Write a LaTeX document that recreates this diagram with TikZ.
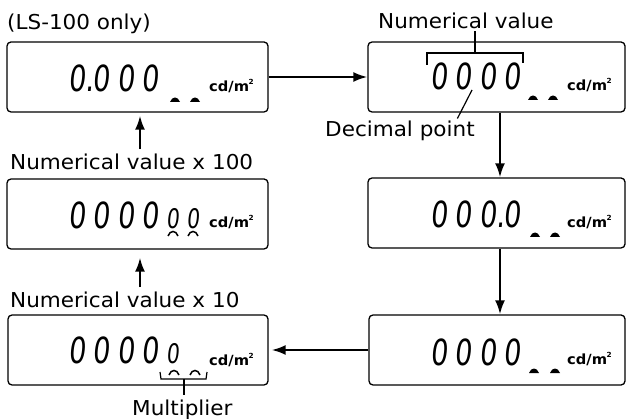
\documentclass[tikz,border=0pt]{standalone}
\usepackage{fontspec}
\setmainfont{DejaVu Sans}[FakeStretch=1.05]
\newfontfamily\lcdfont{DejaVu Sans}[FakeSlant=0.1,FakeStretch=0.75]
\usetikzlibrary{arrows.meta}
\newcommand\lcd{\fontsize{36}{36}\lcdfont}
\newcommand\lcdsmall{\fontsize{27}{27}\lcdfont}
\newcommand\gp{\kern7.3pt}
\newcommand\dotpt{.\kern-1.3pt}
\newcommand\unitcd{\fontsize{14}{14}\selectfont\bfseries cd/m\kern-0.5pt\raisebox{7pt}{\fontsize{7}{7}\selectfont 2}}
\newcommand\mkfill[2]{\fill (#1-5,#2) .. controls (#1-3,#2-6) and (#1+3,#2-6) .. (#1+5,#2) -- cycle;}
\newcommand\mkarc[2]{\draw[line width=1.5pt] (#1-5,#2) .. controls (#1-3,#2-6) and (#1+3,#2-6) .. (#1+5,#2);}
\begin{document}
\begin{tikzpicture}[x=1pt,y=-1pt,
  box/.style={draw, rounded corners=4pt, line width=1.3pt, minimum height=70pt, inner sep=0pt},
  lbl/.style={inner sep=0pt, font=\fontsize{20.5}{20.5}\selectfont},
  txt/.style={inner sep=0pt},
  arr/.style={line width=2.2pt, -{Latex[length=14pt,width=10pt]}},
  thinline/.style={line width=1.2pt}]
\useasboundingbox (0,0) rectangle (626,419);

% boxes
\node[box, minimum width=261pt] (b1) at (137.5,77) {};
\node[box, minimum width=257pt] (b2) at (496.5,77) {};
\node[box, minimum width=257pt] (b3) at (496.5,213) {};
\node[box, minimum width=256pt] (b4) at (497,350) {};
\node[box, minimum width=260pt] (b5) at (138,350) {};
\node[box, minimum width=261pt] (b6) at (137.5,214) {};

% digits
\node[txt, anchor=base west] (d1) at (68,92) {\lcd 0\dotpt 0\gp 0\gp 0};
\node[txt, anchor=base west] (d2) at (430,90) {\lcd 0\gp 0\gp 0\gp 0};
\node[txt, anchor=base west] (d3) at (430,228) {\lcd 0\gp 0\gp 0\dotpt 0};
\node[txt, anchor=base west] (d4) at (430,365) {\lcd 0\gp 0\gp 0\gp 0};
\node[txt, anchor=base west] (d5) at (68,363) {\lcd 0\gp 0\gp 0\gp 0\gp{\lcdsmall 0}};
\node[txt, anchor=base west] (d6) at (68,229) {\lcd 0\gp 0\gp 0\gp 0\gp{\lcdsmall 0\kern7.5pt 0}};

% units
\node[txt, anchor=base west] (u1) at (209,92) {\unitcd};
\node[txt, anchor=base west] (u2) at (567,91) {\unitcd};
\node[txt, anchor=base west] (u3) at (567,228) {\unitcd};
\node[txt, anchor=base west] (u4) at (567,364) {\unitcd};
\node[txt, anchor=base west] (u5) at (209,365) {\unitcd};
\node[txt, anchor=base west] (u6) at (209,228) {\unitcd};

% markers
\mkfill{175}{102}\mkfill{195}{102}
\mkfill{533}{100}\mkfill{553}{100}
\mkfill{535}{237}\mkfill{555}{237}
\mkfill{534}{373}\mkfill{555}{373}
\mkarc{174}{375}\mkarc{195}{375}
\mkarc{173}{236}\mkarc{193}{236}

% labels
\node[lbl, anchor=base west] (ls) at (7,30) {(LS-100 only)};
\node[lbl, anchor=base west] (nv) at (378,29) {Numerical value};
\node[lbl, anchor=base west] (dp) at (325,137) {Decimal point};
\node[lbl, anchor=base west] (n100) at (10,170) {Numerical value x 100};
\node[lbl, anchor=base west] (n10) at (10,308) {Numerical value x 10};
\node[lbl, anchor=base west] (mul) at (132,415) {Multiplier};

% brackets and leader lines
\coordinate (nvs) at (475,53);
\draw[thinline] (427,65) -- (427,53) -- (523,53) -- (523,63);
\draw[thinline, shorten >=2pt] (nvs) -- (nv.south -| nvs);
\coordinate (dpt) at (472,90);
\coordinate (dpe) at (456,0);
\draw[thinline, shorten >=3pt] (dpt) -- (dp.north -| dpe);
\coordinate (mls) at (184,379);
\draw[thinline] (160,372) -- (161,379) -- (206,379) -- (207,372);
\draw[thinline, shorten >=4pt] (mls) -- (mul.north -| mls);

% flow arrows
\coordinate (cr) at (500,0);
\coordinate (cl) at (140,0);
\draw[arr] (b1.east) -- (b2.west);
\draw[arr] (b2.south -| cr) -- (b3.north -| cr);
\draw[arr] (b3.south -| cr) -- (b4.north -| cr);
\draw[arr, shorten >=3pt] (b4.west) -- (b5.east);
\draw[arr, shorten <=5pt, shorten >=8pt] (n10.north -| cl) -- (b6.south -| cl);
\draw[arr, shorten <=5pt, shorten >=3pt] (n100.north -| cl) -- (b1.south -| cl);
\end{tikzpicture}
\end{document}
